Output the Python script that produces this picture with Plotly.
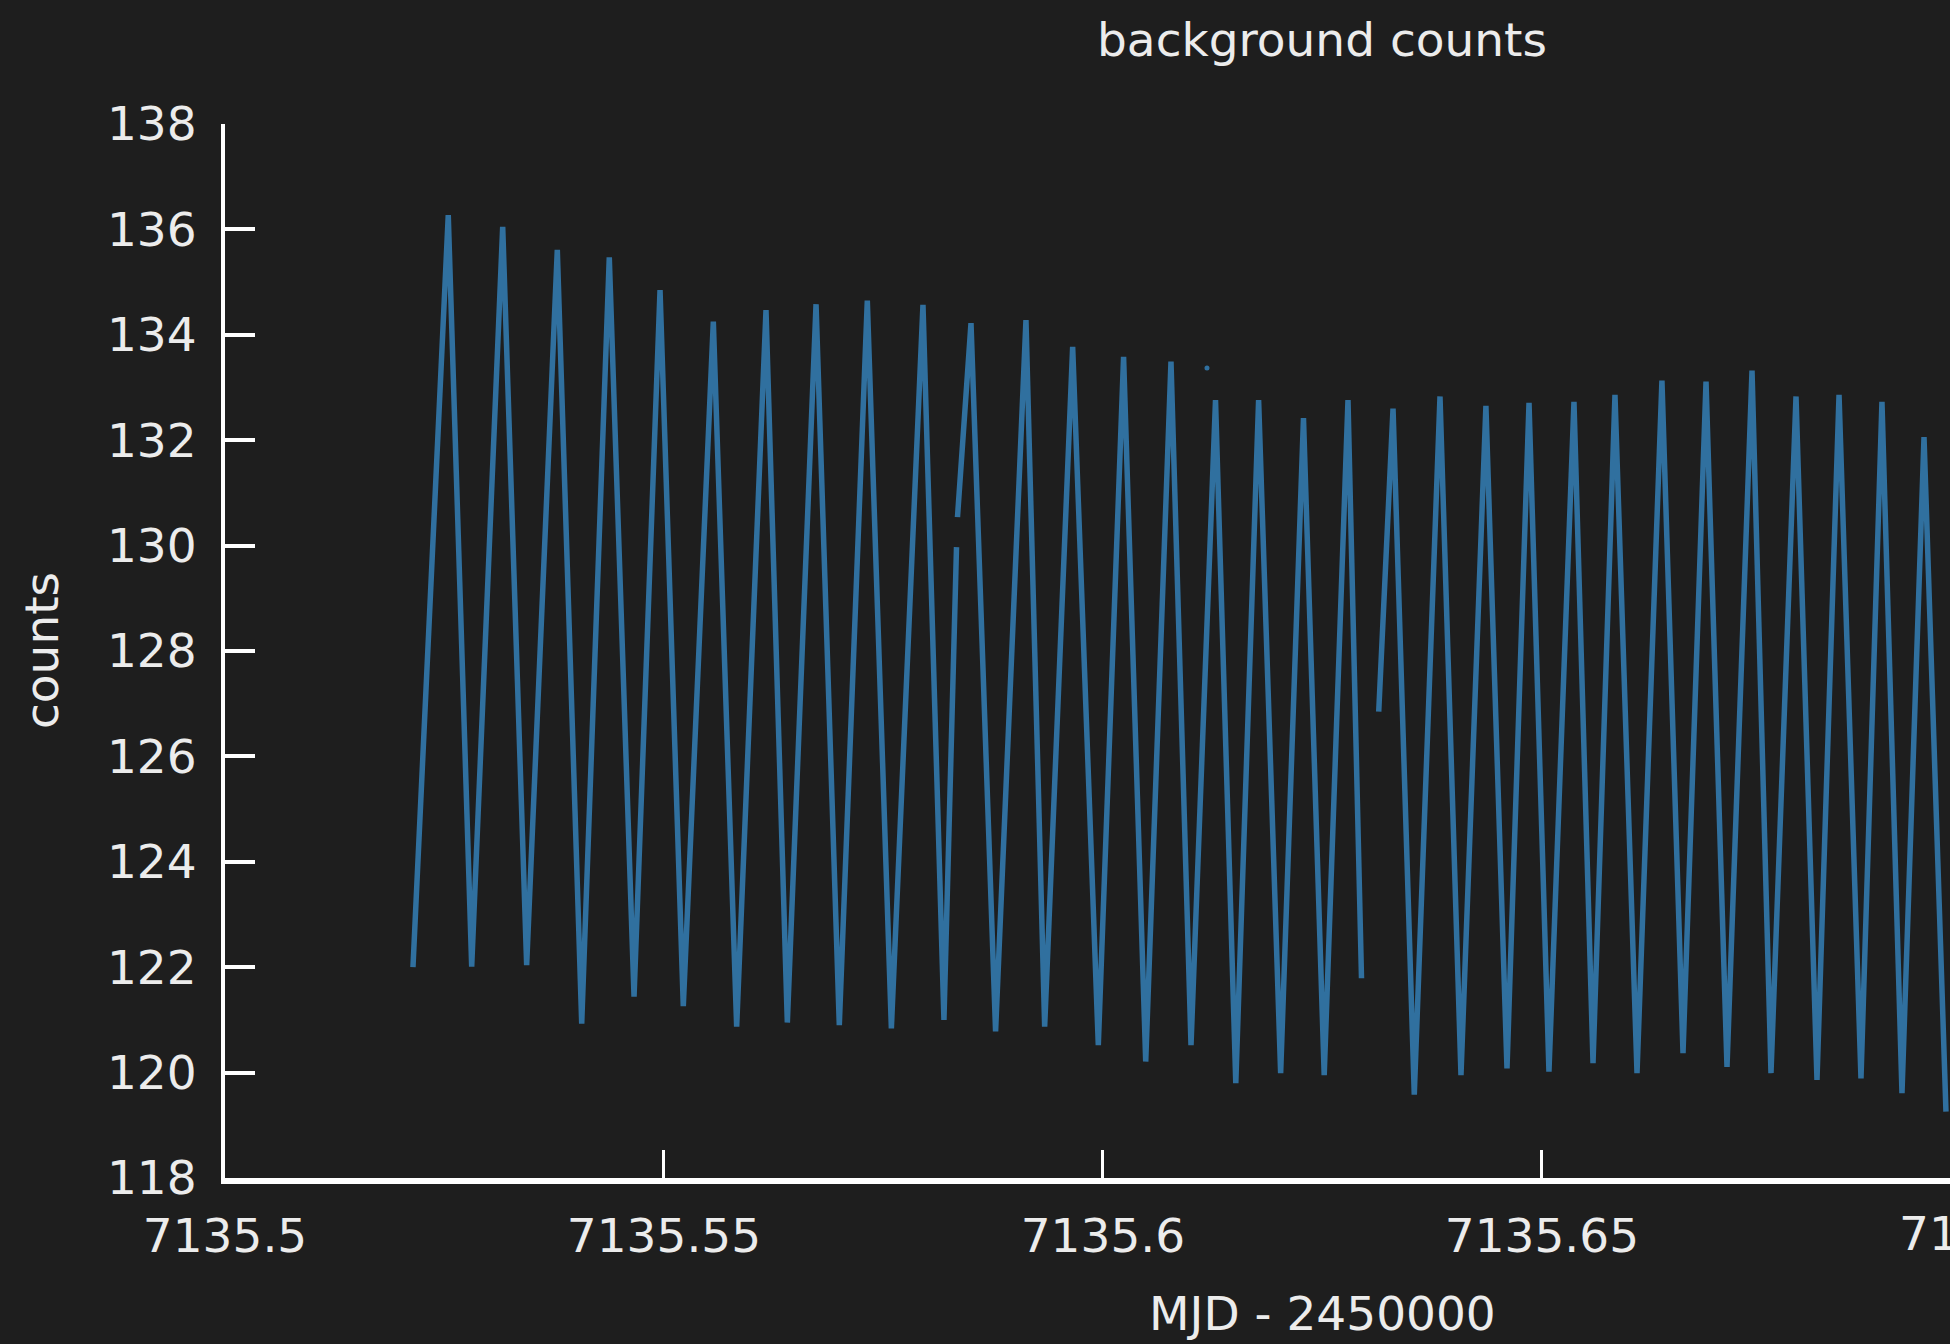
import plotly.graph_objects as go

# vertices of the background-count light curve; None = data gap
mjd = [7135.52141, 7135.52543, 7135.52810, 7135.53163, 7135.53436, 7135.53785, 7135.54063,
       7135.54377, 7135.54659, 7135.54955, 7135.55220, 7135.55562, 7135.55828, 7135.56162,
       7135.56405, 7135.56732, 7135.56997, 7135.57316, 7135.57590, 7135.57950, 7135.58189,
       7135.58332, None, 7135.58343,
       7135.58497, 7135.58777, 7135.59123, 7135.59336, 7135.59655, 7135.59947, 7135.60235,
       7135.60487, 7135.60775, 7135.61003, 7135.61282, 7135.61513, 7135.61773, 7135.62024,
       7135.62284, 7135.62520, 7135.62791,
       7135.62945, None, 7135.63141,
       7135.63304, 7135.63546, 7135.63839, 7135.64078, 7135.64362, 7135.64602, 7135.64853,
       7135.65080, 7135.65365, 7135.65582, 7135.65832, 7135.66083, 7135.66367, 7135.66607,
       7135.66869, 7135.67108, 7135.67393, 7135.67609, 7135.67894, 7135.68133, 7135.68384,
       7135.68634, 7135.68873, 7135.69101, 7135.69352, 7135.69602]
counts = [122.0, 136.27, 122.01, 136.05, 122.04, 135.61, 120.93,
          135.47, 121.44, 134.85, 121.26, 134.25, 120.87, 134.47,
          120.95, 134.58, 120.90, 134.65, 120.84, 134.57, 121.00,
          129.97, None, 130.54,
          134.22, 120.78, 134.28, 120.87, 133.77, 120.52, 133.58,
          120.21, 133.49, 120.52, 132.76, 119.80, 132.76, 119.99,
          132.42, 119.95, 132.76,
          121.79, None, 126.85,
          132.60, 119.58, 132.83, 119.95, 132.65, 120.08, 132.71,
          120.02, 132.73, 120.18, 132.86, 119.99, 133.13, 120.37,
          133.11, 120.11, 133.32, 119.99, 132.83, 119.86, 132.86,
          119.89, 132.73, 119.61, 132.06, 119.26]
assert len(mjd) == len(counts)

stray_mjd = [7135.61185]
stray_counts = [133.37]

x_range = [7135.5, 7135.69648]
full_x_range = [7135.5, 7135.75]
y_range = [118, 138]
x_ticks = [7135.5, 7135.55, 7135.6, 7135.65]
x_tick_text = ["7135.5", "7135.55", "7135.6", "7135.65"]
cut_tick = 7135.7
cut_tick_text = "7135.7"
y_ticks = [118, 120, 122, 124, 126, 128, 130, 132, 134, 136, 138]

BG = "#1e1e1e"
FG = "#ececec"
LINE = "#30709f"
FONT = "DejaVu Sans"
FS = 47

fig = go.Figure()
fig.add_trace(go.Scatter(x=mjd, y=counts, mode="lines",
                         line=dict(color=LINE, width=5.5), connectgaps=False,
                         showlegend=False, hoverinfo="skip"))
fig.add_trace(go.Scatter(x=stray_mjd, y=stray_counts, mode="markers",
                         marker=dict(color=LINE, size=5), showlegend=False,
                         hoverinfo="skip"))

span = x_range[1] - x_range[0]
center_frac = ((full_x_range[0] + full_x_range[1]) / 2 - x_range[0]) / span
cut_frac = (cut_tick - x_range[0]) / span

fig.update_layout(
    width=1950, height=1344,
    margin=dict(l=225, r=0, t=124, b=166),
    paper_bgcolor=BG, plot_bgcolor=BG,
    font=dict(family=FONT, size=FS, color=FG),
    xaxis=dict(range=x_range, tickvals=x_ticks, ticktext=x_tick_text,
               ticks="inside", ticklen=28, tickwidth=3, tickcolor="white",
               showline=True, linecolor="white", linewidth=6, mirror=False,
               showgrid=False, zeroline=False, ticklabelstandoff=12,
               tickfont=dict(family=FONT, size=FS, color=FG)),
    yaxis=dict(range=y_range, tickvals=y_ticks,
               ticks="inside", ticklen=30, tickwidth=4, tickcolor="white",
               showline=True, linecolor="white", linewidth=4, mirror=False,
               showgrid=False, zeroline=False, ticklabelstandoff=15,
               tickfont=dict(family=FONT, size=FS, color=FG)),
    annotations=[
        dict(text="background counts", xref="paper", yref="paper",
             x=center_frac, y=(1178 - 39) / 1054, xanchor="center", yanchor="middle",
             showarrow=False, font=dict(family=FONT, size=FS, color=FG)),
        dict(text="MJD - 2450000", xref="paper", yref="paper",
             x=center_frac, y=(1178 - 1314) / 1054, xanchor="center", yanchor="middle",
             showarrow=False, font=dict(family=FONT, size=FS, color=FG)),
        dict(text="counts", xref="paper", yref="paper", textangle=-90,
             x=(41 - 225) / 1725, y=0.5, xanchor="center", yanchor="middle",
             showarrow=False, font=dict(family=FONT, size=FS, color=FG)),
        dict(text=cut_tick_text, xref="paper", yref="paper",
             x=cut_frac, y=(1178 - 1233) / 1054, xanchor="center", yanchor="middle",
             showarrow=False, font=dict(family=FONT, size=FS, color=FG)),
    ],
)

fig.write_html(
    "out.html",
    config={"displayModeBar": False},
    post_script="document.body.style.margin='0';"
                "document.body.style.overflow='hidden';"
                "document.documentElement.style.overflow='hidden';",
)
